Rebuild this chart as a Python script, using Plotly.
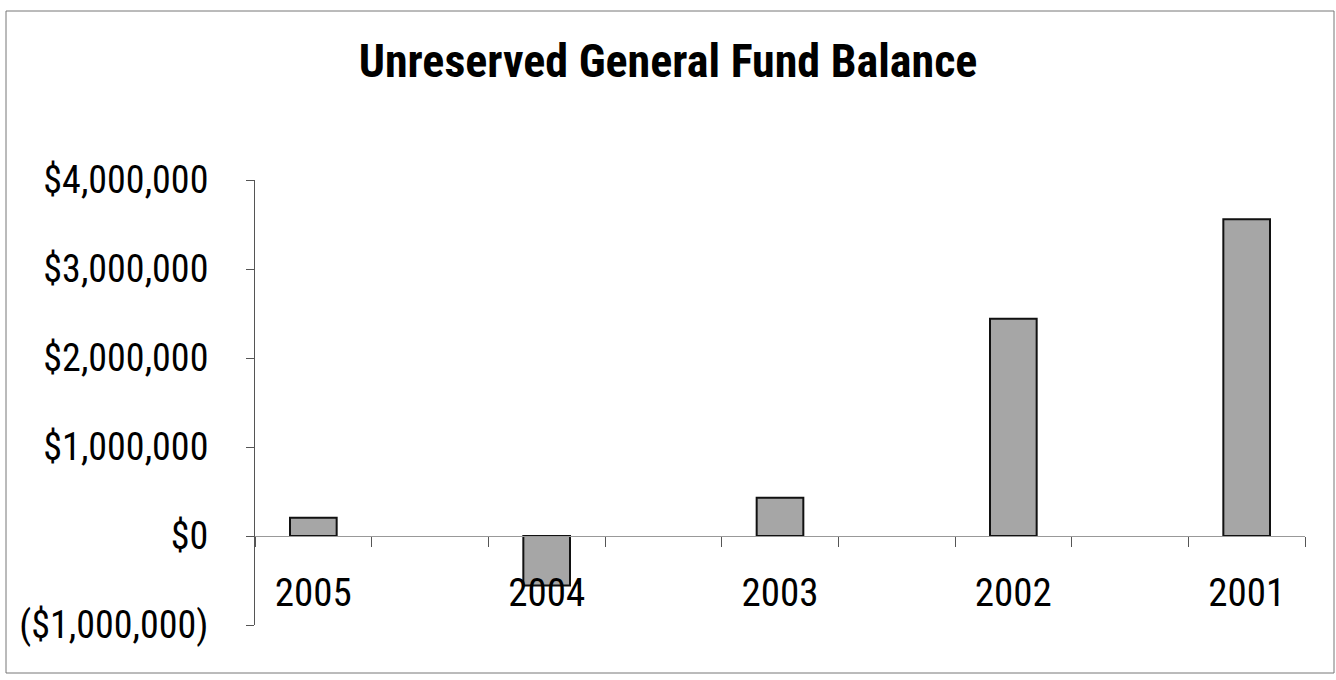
import plotly.graph_objects as go

# ---- data ----
years = ["2005", "2004", "2003", "2002", "2001"]
balances = [205000, -555000, 430000, 2440000, 3560000]
y_tick_values = [-1000000, 0, 1000000, 2000000, 3000000, 4000000]
title_text = "Unreserved General Fund Balance"

def money(v):
    s = "${:,.0f}".format(abs(v))
    return "(" + s + ")" if v < 0 else s

y_tick_labels = [money(v) for v in y_tick_values]

# interleave spacer categories between the years (the original chart has empty slots)
categories = []
for i, yr in enumerate(years):
    categories.append(yr)
    if i < len(years) - 1:
        categories.append("gap%d" % i)
cat_labels = [c if c in years else "" for c in categories]

FONT = "Liberation Sans Narrow, Arial Narrow, Roboto Condensed, Liberation Sans, Arial, sans-serif"

fig = go.Figure()
fig.add_trace(go.Bar(
    x=years, y=balances,
    marker=dict(color="#a6a6a6", line=dict(color="#111111", width=2)),
    width=0.4,
    hoverinfo="x+y",
))

fig.update_layout(
    width=1336, height=680,
    paper_bgcolor="white", plot_bgcolor="white",
    margin=dict(l=255, r=31, t=180, b=55),
    showlegend=False,
    font=dict(family=FONT, color="black"),
    title=dict(text="<b>" + title_text + "</b>", x=0.5, xref="container", xanchor="center",
               y=1 - 61 / 680, yref="container", yanchor="middle",
               font=dict(family=FONT, size=46, color="black")),
    xaxis=dict(
        type="category", categoryorder="array", categoryarray=categories,
        tickvals=categories, ticktext=cat_labels,
        tickson="boundaries", ticks="outside", ticklen=10, tickcolor="#555", tickwidth=1,
        showline=True, linecolor="#999", linewidth=1,
        showgrid=False, zeroline=False,
        anchor="free", position=0.2,
        tickfont=dict(family=FONT, size=39, color="black"),
        ticklabelstandoff=22,
        range=[-0.5, len(categories) - 0.5],
    ),
    yaxis=dict(
        range=[-1000000, 4000000],
        tickvals=y_tick_values, ticktext=y_tick_labels,
        ticks="outside", ticklen=8, tickcolor="#555", tickwidth=1,
        showline=True, linecolor="#555", linewidth=1,
        showgrid=False, zeroline=False,
        tickfont=dict(family=FONT, size=38, color="black"),
        ticklabelstandoff=30,
    ),
    shapes=[dict(type="rect", xref="paper", yref="paper",
                 x0=(6 - 255) / 1050, x1=(1334 - 255) / 1050,
                 y0=(625 - 673) / 445, y1=(625 - 11) / 445,
                 line=dict(color="#777", width=1), fillcolor="rgba(0,0,0,0)", layer="below")],
)

fig.write_html("out.html")
